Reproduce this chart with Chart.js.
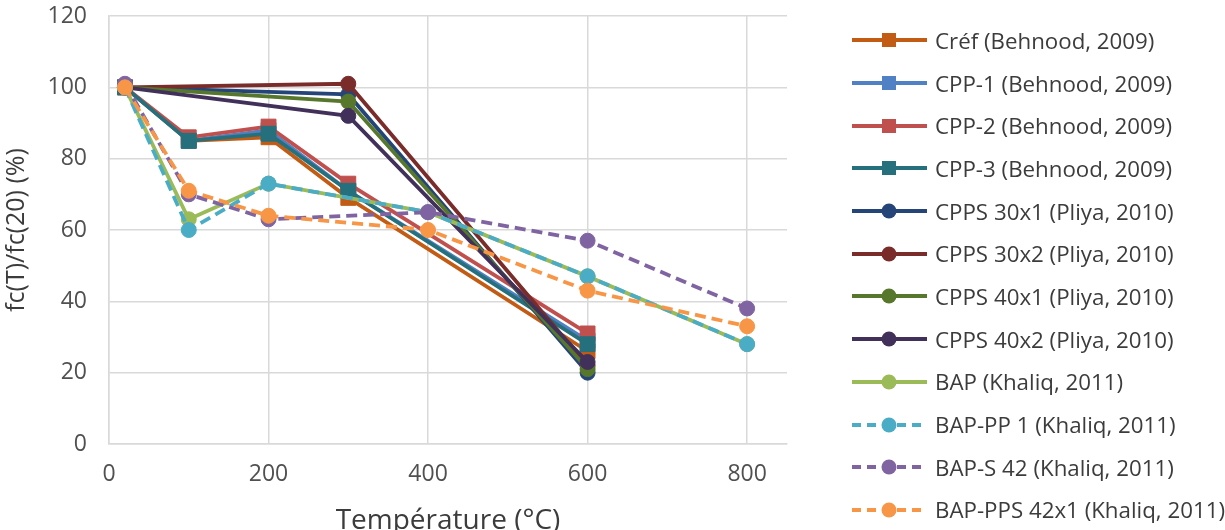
<!DOCTYPE html>
<html>
<head>
<meta charset="utf-8">
<title>fc(T)/fc(20)</title>
<script src="https://cdn.jsdelivr.net/npm/chart.js@4.4.1/dist/chart.umd.min.js"></script>
<style>
  html, body { margin: 0; padding: 0; background: #fff; overflow: hidden; width: 1225px; height: 530px; }
  #wrap { position: relative; width: 1225px; height: 530px; overflow: hidden; }
  #chart { position: absolute; left: 0; top: 0; }
  #legend { position: absolute; left: 850px; top: 19px; font-family: "Open Sans", sans-serif; font-size: 22.3px; color: #3c3c3c; white-space: nowrap; }
  .item { height: 42.7px; display: flex; align-items: center; }
  .item canvas { margin-right: 5px; flex: none; }
</style>
</head>
<body>
<div id="wrap">
  <canvas id="chart" width="830" height="545"></canvas>
  <div id="legend"></div>
</div>
<script>
// temperatures (°C)
var tempBehnood = [20, 100, 200, 300, 600];
var tempPliya = [20, 300, 600];
var tempKhaliq = [20, 100, 200, 400, 600, 800];

// fc(T)/fc(20) in %
var cref = [100, 85, 86, 69, 26];
var cpp1 = [100, 85, 88, 71, 29];
var cpp2 = [100, 86, 89, 73, 31];
var cpp3 = [100, 85, 87, 71, 28];
var cpps30x1 = [100, 98, 20];
var cpps30x2 = [100, 101, 22];
var cpps40x1 = [100, 96, 21];
var cpps40x2 = [100, 92, 23];
var bap = [100, 63, 73, 65, 47, 28];
var bapPP1 = [100, 60, 73, 65, 47, 28];
var bapS42 = [101, 70, 63, 65, 57, 38];
var bapPPS42 = [100, 71, 64, 60, 43, 33];

var yTicks = [0, 20, 40, 60, 80, 100, 120];
var xTicks = [0, 200, 400, 600, 800];

var FONT = '"Open Sans", sans-serif';

function serie(label, temps, vals, color, marker, dashed) {
    var pts = temps.map(function (t, i) { return { x: t, y: vals[i] }; });
    return {
        label: label,
        data: pts,
        borderColor: color,
        backgroundColor: color,
        borderWidth: 3.8,
        borderDash: dashed ? [11, 6] : [],
        pointStyle: marker,
        pointRadius: marker == 'rect' ? 10.5 : 7.5,
        pointBackgroundColor: color,
        pointBorderColor: color,
        pointBorderWidth: 1,
        tension: 0,
        fill: false
    };
}

var datasets = [
    serie('Créf (Behnood, 2009)', tempBehnood, cref, '#C25B14', 'rect', false),
    serie('CPP-1 (Behnood, 2009)', tempBehnood, cpp1, '#4F81C4', 'rect', false),
    serie('CPP-2 (Behnood, 2009)', tempBehnood, cpp2, '#C0504D', 'rect', false),
    serie('CPP-3 (Behnood, 2009)', tempBehnood, cpp3, '#25707C', 'rect', false),
    serie('CPPS 30x1 (Pliya, 2010)', tempPliya, cpps30x1, '#254579', 'circle', false),
    serie('CPPS 30x2 (Pliya, 2010)', tempPliya, cpps30x2, '#7A2C2A', 'circle', false),
    serie('CPPS 40x1 (Pliya, 2010)', tempPliya, cpps40x1, '#56772C', 'circle', false),
    serie('CPPS 40x2 (Pliya, 2010)', tempPliya, cpps40x2, '#41315A', 'circle', false),
    serie('BAP (Khaliq, 2011)', tempKhaliq, bap, '#9BBB59', 'circle', false),
    serie('BAP-PP 1 (Khaliq, 2011)', tempKhaliq, bapPP1, '#4BACC6', 'circle', true),
    serie('BAP-S 42 (Khaliq, 2011)', tempKhaliq, bapS42, '#8064A2', 'circle', true),
    serie('BAP-PPS 42x1 (Khaliq, 2011)', tempKhaliq, bapPPS42, '#F79646', 'circle', true)
];
// later series drawn on top
datasets.forEach(function (d, i) { d.order = -i; });

var chart = new Chart(document.getElementById('chart').getContext('2d'), {
    type: 'line',
    data: { datasets: datasets },
    options: {
        responsive: false,
        animation: false,
        layout: { padding: { top: 16, right: 43, left: 0, bottom: 0 } },
        plugins: { legend: { display: false }, tooltip: { enabled: false } },
        scales: {
            x: {
                type: 'linear',
                min: 0,
                max: 850,
                afterBuildTicks: function (s) { s.ticks = xTicks.map(function (v) { return { value: v }; }); },
                afterFit: function (s) { s.height = 101; s.paddingLeft = 0; s.paddingRight = 0; },
                ticks: { padding: 17, color: '#505050', font: { family: FONT, size: 23 } },
                grid: { color: '#d9d9d9', lineWidth: 1.5, drawTicks: false },
                border: { color: '#d9d9d9', width: 1.5 },
                title: { display: true, text: 'Température (°C)', color: '#3c3c3c', font: { family: FONT, size: 28 }, padding: { top: 0, bottom: 7 } }
            },
            y: {
                min: 0,
                max: 120,
                afterBuildTicks: function (s) { s.ticks = yTicks.map(function (v) { return { value: v }; }); },
                afterFit: function (s) { s.width = 109; s.paddingTop = 0; s.paddingBottom = 0; },
                ticks: { padding: 22, color: '#505050', font: { family: FONT, size: 23 } },
                grid: { color: '#d9d9d9', lineWidth: 1.5, drawTicks: false },
                border: { color: '#d9d9d9', width: 1.5 },
                title: { display: true, text: 'fc(T)/fc(20) (%)', color: '#3c3c3c', font: { family: FONT, size: 25 }, padding: { top: 2, bottom: 0 } }
            }
        }
    }
});

// html legend, line + marker sample for each series
function drawSymbol(cv, ds) {
    var c = cv.getContext('2d');
    c.strokeStyle = ds.borderColor;
    c.fillStyle = ds.borderColor;
    c.lineWidth = 3.8;
    c.setLineDash(ds.borderDash.length ? [9, 6] : []);
    c.beginPath();
    c.moveTo(2, 10);
    c.lineTo(77, 10);
    c.stroke();
    c.setLineDash([]);
    if (ds.pointStyle == 'rect') {
        c.fillRect(32, 3, 14, 14);
    } else {
        c.beginPath();
        c.arc(39, 10, 7.5, 0, Math.PI * 2);
        c.fill();
    }
}

var legend = document.getElementById('legend');
chart.data.datasets.forEach(function (ds) {
    var row = document.createElement('div');
    row.className = 'item';
    var cv = document.createElement('canvas');
    cv.width = 80;
    cv.height = 20;
    drawSymbol(cv, ds);
    var span = document.createElement('span');
    span.textContent = ds.label;
    row.appendChild(cv);
    row.appendChild(span);
    legend.appendChild(row);
});
</script>
</body>
</html>
